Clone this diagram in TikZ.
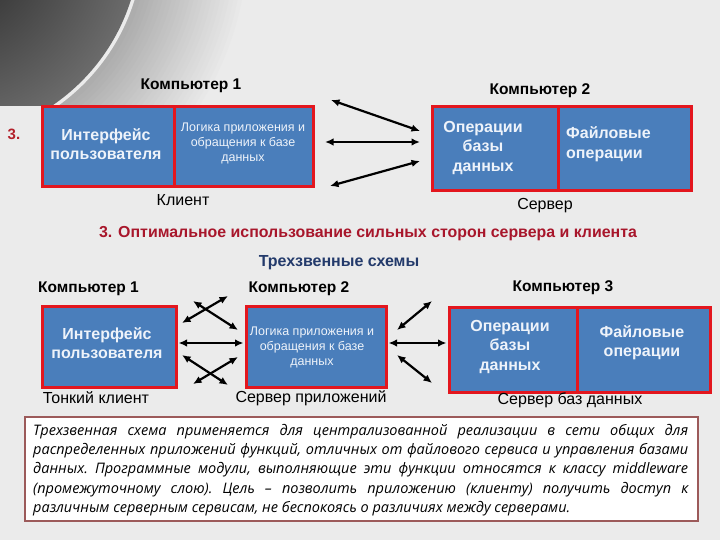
\documentclass[tikz,border=0pt]{standalone}
\usepackage{fontspec}
\setmainfont{Liberation Sans}
\newfontfamily\bodyfont{Open Sans}
\usetikzlibrary{arrows.meta}
\definecolor{bg}{HTML}{EBEBEB}
\definecolor{cellblue}{HTML}{4A7EBB}
\definecolor{cellred}{HTML}{E3161E}
\definecolor{celltext}{HTML}{EEF3FA}
\definecolor{titlered}{HTML}{A8162B}
\definecolor{navy}{HTML}{233A6B}
\definecolor{boxframe}{HTML}{9C5A5A}
\definecolor{numred}{HTML}{B3202A}
\begin{document}
\begin{tikzpicture}[x=1pt,y=-1pt,
  cell/.style={draw=cellred, fill=cellblue, line width=3pt, inner sep=0pt},
  comp/.style={font=\fontsize{15.5}{17}\selectfont\bfseries, inner sep=0pt},
  under/.style={font=\fontsize{16}{18}\selectfont, inner sep=0pt},
  bigtxt/.style={font=\fontsize{16}{19.5}\selectfont\bfseries, text=celltext, align=center, inner sep=0pt},
  smalltxt/.style={font=\fontsize{12.5}{15}\selectfont, text=celltext, align=center, inner sep=0pt},
  dbl/.style={{Latex[length=8.5pt,width=7.5pt]}-{Latex[length=8.5pt,width=7.5pt]}, line width=2.2pt, black}
]
\useasboundingbox (0,0) rectangle (720,540);
\fill[bg] (0,0) rectangle (720,540);
% decorative swoosh
\begin{scope}
  \clip (0,0) rectangle (720,106);
  \foreach \i in {0,...,24} {
    \pgfmathsetmacro{\rr}{312-4.3*\i}
    \pgfmathsetmacro{\pc}{8+1.0*\i}
    \fill[black!\pc] (-60,-60) circle (\rr);
  }
  \fill[black!8] (-60,-60) circle (203.5);
  \shade[inner color=black!88, outer color=black!58] (-60,-60) circle (200);
\end{scope}

% ---- top section ----
\node[comp] (k1) at (191,86) {Компьютер 1};
\node[comp] (k2) at (540,91) {Компьютер 2};
\node[font=\fontsize{15}{17}\selectfont\bfseries, text=numred, inner sep=0pt] (n3) at (14,134) {3.};

\node[cell, minimum width=132pt, minimum height=80pt] (c1a) at (108,147) {};
\node[cell, minimum width=139pt, minimum height=80pt] (c1b) at (243.5,147) {};
\node[cell, minimum width=126pt, minimum height=84pt] (s1a) at (495,149) {};
\node[cell, minimum width=133pt, minimum height=84pt] (s1b) at (624.5,149) {};

\node[bigtxt] (t1a) at (106,144) {Интерфейс\\пользователя};
\node[smalltxt] (t1b) at (243,143) {Логика приложения и\\обращения к базе\\данных};
\node[bigtxt] (t2a) at (483,148) {Операции\\базы\\данных};
\node[bigtxt, align=left, anchor=west] (t2b) at (566,144) {Файловые\\операции};

\node[under] (cl) at (183,200) {Клиент};
\node[under] (sv) at (545,206) {Сервер};

\coordinate (a1l) at (331,100); \coordinate (a1r) at (420,131);
\coordinate (a2l) at (325,142); \coordinate (a2r) at (420,142);
\coordinate (a3l) at (330,186); \coordinate (a3r) at (420,161);
\draw[dbl] (a1l) -- (a1r);
\draw[dbl] (a2l) -- (a2r);
\draw[dbl] (a3l) -- (a3r);

% ---- titles ----
\node[font=\fontsize{15.9}{18}\selectfont\bfseries, text=titlered, inner sep=0pt] (ttl) at (368,234)
  {3. Оптимальное использование сильных сторон сервера и клиента};
\node[font=\fontsize{16}{18}\selectfont\bfseries, text=navy, inner sep=0pt] (sub) at (339,263) {Трехзвенные схемы};

% ---- bottom section ----
\node[comp] (b1) at (88.5,289) {Компьютер 1};
\node[comp] (b2) at (299,289) {Компьютер 2};
\node[comp] (b3) at (563,288) {Компьютер 3};

\node[cell, minimum width=134pt, minimum height=81pt] (bA) at (109,346.5) {};
\node[cell, minimum width=140pt, minimum height=81pt] (bB) at (316,346.5) {};
\node[cell, minimum width=128pt, minimum height=85pt] (bCa) at (513,349.5) {};
\node[cell, minimum width=133pt, minimum height=85pt] (bCb) at (643.5,349.5) {};

\node[bigtxt] (tA) at (107,343) {Интерфейс\\пользователя};
\node[smalltxt] (tB) at (312,347) {Логика приложения и\\обращения к базе\\данных};
\node[bigtxt] (tCa) at (510,347) {Операции\\базы\\данных};
\node[bigtxt] (tCb) at (642,342.5) {Файловые\\операции};

\node[under] (u1) at (96,398) {Тонкий клиент};
\node[under] (u2) at (311,398) {Сервер приложений};
\node[under] (u3) at (570,400) {Сервер баз данных};

% arrows A-B
\coordinate (x1a) at (182,323); \coordinate (x1b) at (228,296);
\coordinate (x2a) at (193,301); \coordinate (x2b) at (238,330);
\coordinate (x3a) at (182,355); \coordinate (x3b) at (228,385);
\coordinate (x4a) at (193,384); \coordinate (x4b) at (238,357);
\draw[dbl] (x1a) -- (x1b);
\draw[dbl] (x2a) -- (x2b);
\draw[dbl] (x3a) -- (x3b);
\draw[dbl] (x4a) -- (x4b);
\draw[dbl, shorten <=1pt, shorten >=1pt] (bA.east |- 0,343) -- (bB.west |- 0,343);
% arrows B-C
\coordinate (y1a) at (397,330); \coordinate (y1b) at (432,301);
\coordinate (y3a) at (397,355); \coordinate (y3b) at (432,383);
\draw[dbl] (y1a) -- (y1b);
\draw[dbl] (y3a) -- (y3b);
\draw[dbl, shorten <=1pt, shorten >=1pt] (bB.east |- 0,343) -- (bCa.west |- 0,343);

% ---- text box ----
\node[draw=boxframe, line width=2pt, fill=white, minimum width=673pt, minimum height=104pt, inner sep=0pt] (tbox) at (361.5,469) {};
\node[anchor=north west, inner sep=0pt, align=left, font=\bodyfont\itshape\fontsize{14.5}{19.3}\selectfont\frenchspacing] (body) at (33,424)
{\makebox[655pt][s]{Трехзвенная схема применяется для централизованной реализации в сети общих для}\\
\makebox[655pt][s]{распределенных приложений функций, отличных от файлового сервиса и управления базами}\\
\makebox[655pt][s]{данных. Программные модули, выполняющие эти функции относятся к классу middleware}\\
\makebox[655pt][s]{(промежуточному слою). Цель – позволить приложению (клиенту) получить доступ к}\\
различным серверным сервисам, не беспокоясь о различиях между серверами.};
\end{tikzpicture}
\end{document}
